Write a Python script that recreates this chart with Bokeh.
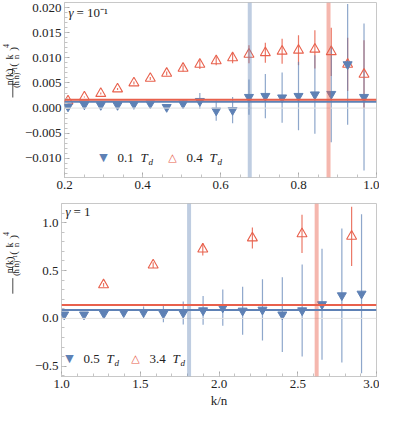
import math
from bokeh.plotting import figure
from bokeh.layouts import column, row
from bokeh.models import (Range1d, LinearAxis, Label, Span, FixedTicker,
                          CustomJSTickFormatter)
from bokeh.embed import file_html
from bokeh.resources import INLINE

# ---------------- data: top panel (gamma = 10^-1) ----------------
top_k = [0.209, 0.251, 0.293, 0.336, 0.378, 0.420, 0.462, 0.504, 0.547, 0.589,
         0.631, 0.673, 0.715, 0.758, 0.800, 0.842, 0.884, 0.926, 0.968]
top_blue = [0.0003, 0.0007, 0.0006, 0.0006, 0.0008, 0.0009, 0.0002, 0.0009, 0.0014, -0.0005,
            -0.0004, 0.0022, 0.0024, 0.0021, 0.0024, 0.0027, 0.0028, 0.0087, 0.0022]
top_blue_err = [0.0002, 0.0002, 0.0003, 0.0003, 0.0003, 0.0004, 0.0005, 0.0008, 0.0016, 0.0020,
                0.0026, 0.0035, 0.0044, 0.0050, 0.0068, 0.0078, 0.0096, 0.0120, 0.0146]
top_red = [0.0014, 0.0022, 0.0029, 0.0038, 0.0050, 0.0059, 0.0069, 0.0079, 0.0087, 0.0094,
           0.0100, 0.0107, 0.0110, 0.0113, 0.0115, 0.0117, 0.0112, 0.0087, 0.0067]
top_red_err = [0.0001, 0.0001, 0.0002, 0.0002, 0.0003, 0.0003, 0.0004, 0.0006, 0.0009, 0.0009,
               0.0011, 0.0018, 0.0020, 0.0025, 0.0030, 0.0038, 0.0048, 0.0053, 0.0068]
top_hlines = {"blue": 0.00128, "red": 0.00167}
top_vbands = {"blue": 0.675, "red": 0.877}
top_legend = ["0.1", "0.4"]

# ---------------- data: bottom panel (gamma = 1) ----------------
bot_k_blue = [1.017, 1.143, 1.269, 1.395, 1.521, 1.647, 1.773, 1.899, 2.024, 2.150,
              2.276, 2.402, 2.528, 2.654, 2.780, 2.905]
bot_blue = [0.040, 0.040, 0.050, 0.063, 0.063, 0.050, 0.057, 0.083, 0.113, 0.080,
            0.090, 0.040, 0.083, 0.147, 0.240, 0.257]
bot_blue_err = [0.010, 0.015, 0.020, 0.030, 0.060, 0.090, 0.120, 0.150, 0.190, 0.250,
                0.320, 0.390, 0.480, 0.580, 0.700, 0.830]
bot_k_red = [1.267, 1.582, 1.897, 2.212, 2.527, 2.842]
bot_red = [0.350, 0.557, 0.723, 0.840, 0.883, 0.857]
bot_red_err = [0.020, 0.030, 0.065, 0.110, 0.200, 0.310]
bot_hlines = {"blue": 0.087, "red": 0.140}
bot_vbands = {"blue": 1.81, "red": 2.62}
bot_legend = ["0.5", "3.4"]

# tick values
top_xticks = [0.2, 0.4, 0.6, 0.8, 1.0]
top_yticks = [-0.010, -0.005, 0.0, 0.005, 0.010, 0.015, 0.020]
bot_xticks = [1.0, 1.5, 2.0, 2.5, 3.0]
bot_yticks = [-0.5, 0.0, 0.5, 1.0]

BLUE = "#5E81B5"
RED = "#E8604C"
SERIF = "Liberation Serif, Times New Roman, serif"
FRAME_H = 175
LAB_W = 21
MAIN_W = 379 - LAB_W


def fmt(digits):
    return CustomJSTickFormatter(code=(
        "const s = Math.abs(tick).toFixed(%d); "
        "return (tick < -1e-12 ? '\\u2212' : '') + s;" % digits))


def minor_list(lo, hi, step):
    n = int(round((hi - lo) / step))
    return [round(lo + i * step, 6) for i in range(n + 1)]


def style_axis(ax, ticks, minor, formatter):
    ax.ticker = FixedTicker(ticks=ticks, minor_ticks=minor)
    ax.axis_line_color = None
    ax.major_tick_in = 5
    ax.major_tick_out = 0
    ax.minor_tick_in = 3
    ax.minor_tick_out = 0
    ax.major_tick_line_color = "#a8a8a8"
    ax.minor_tick_line_color = "#c4c4c4"
    ax.formatter = formatter
    ax.major_label_text_font = SERIF
    ax.major_label_text_font_size = "13px"
    ax.major_label_text_color = "#222222"
    ax.major_label_standoff = 3


def make_fig(height, xr, yr, btop, bbottom, xticks, xminor, yticks, yminor, xd, yd):
    p = figure(width=MAIN_W, height=height, x_range=Range1d(*xr), y_range=Range1d(*yr),
               output_backend="svg", toolbar_location=None,
               x_axis_location=None, y_axis_location=None,
               min_border_left=69 - 8 - LAB_W, min_border_right=3,
               min_border_top=btop, min_border_bottom=bbottom)
    p.grid.visible = False
    p.outline_line_color = "#c8c8c8"
    p.outline_line_width = 1
    p.background_fill_color = "white"
    p.border_fill_color = "white"
    for loc, ticks, minor, d in [("below", xticks, xminor, xd),
                                 ("left", yticks, yminor, yd)]:
        ax = LinearAxis()
        style_axis(ax, ticks, minor, fmt(d))
        p.add_layout(ax, loc)
    p.add_layout(Span(location=0, dimension="width", line_color="#e2e2e2", line_width=1))
    return p


def draw_data(p, kb, vb, eb, kr, vr, er, hl, vbands, msize):
    p.add_layout(Span(location=vbands["blue"], dimension="height",
                      line_color=BLUE, line_alpha=0.4, line_width=4))
    p.add_layout(Span(location=vbands["red"], dimension="height",
                      line_color=RED, line_alpha=0.45, line_width=4))
    p.segment(x0=kr, x1=kr, y0=[v - e for v, e in zip(vr, er)],
              y1=[v + e for v, e in zip(vr, er)], line_color=RED, line_alpha=0.85, line_width=1.2)
    p.segment(x0=kb, x1=kb, y0=[v - e for v, e in zip(vb, eb)],
              y1=[v + e for v, e in zip(vb, eb)], line_color=BLUE, line_alpha=0.7, line_width=1.2)
    p.add_layout(Span(location=hl["blue"], dimension="width", line_color=BLUE, line_width=2))
    p.add_layout(Span(location=hl["red"], dimension="width", line_color=RED, line_width=2))
    p.scatter(kr, vr, marker="triangle", size=msize + 1, fill_alpha=0,
              line_color=RED, line_width=1.1)
    p.scatter(kb, vb, marker="inverted_triangle", size=msize, fill_color=BLUE,
              line_color=BLUE, line_width=1)


def lab(p, text, x, y, size, angle=0.0, italic=False, font=SERIF, color="#222222",
        align="center", baseline="middle"):
    p.add_layout(Label(x=x, y=y, x_units="screen", y_units="screen", text=text,
                       text_font=font, text_font_size="%dpx" % size,
                       text_font_style="italic" if italic else "normal",
                       text_color=color, angle=angle, text_align=align,
                       text_baseline=baseline))


def ylabel_fig(height, bbottom):
    # narrow figure holding the stacked-fraction axis title
    q = figure(width=LAB_W, height=height, x_range=Range1d(0, LAB_W),
               y_range=Range1d(0, height), output_backend="svg", toolbar_location=None,
               x_axis_location=None, y_axis_location=None,
               min_border=0, min_border_left=0, min_border_right=0,
               min_border_top=0, min_border_bottom=0)
    q.grid.visible = False
    q.outline_line_color = None
    q.background_fill_color = "white"
    q.border_fill_color = "white"
    a = math.pi / 2
    c = bbottom + FRAME_H / 2
    lab(q, "n(k)", 8.5, c - 8, 10, angle=a)
    q.segment(x0=[12.3], x1=[12.3], y0=[c - 18], y1=[c + 1], line_color="#333333", line_width=0.9)
    lab(q, "(\u0127 n)\u207b\u00b9", 16, c - 8.5, 8, angle=a)
    lab(q, "(", 12, c + 4, 11, angle=a)
    lab(q, ")", 12, c + 20, 11, angle=a)
    lab(q, "k", 8.5, c + 12, 10, angle=a)
    q.segment(x0=[12], x1=[12], y0=[c + 9], y1=[c + 15], line_color="#333333", line_width=0.8)
    lab(q, "n", 15.5, c + 12, 9, angle=a)
    lab(q, "4", 5, c + 23, 8, angle=a)
    return q


def gamma_label(p, rest):
    lab(p, "\u03b3", 4, FRAME_H - 10, 13, italic=True, align="left")
    lab(p, rest, 12, FRAME_H - 10, 13, align="left")


def legend(p, y, items):
    for (mx, mark, col, num) in items:
        lab(p, mark, mx, y, 11, font="DejaVu Sans", color=col)
        lab(p, num, mx + 14, y, 13, align="left")
        lab(p, "T", mx + 37, y, 13, italic=True, align="left")
        lab(p, "d", mx + 45, y - 4, 9, italic=True, align="left")


# ---------------- top panel ----------------
TOP_B, TOP_BB = 2, 21
h1 = TOP_B + FRAME_H + TOP_BB
p1 = make_fig(h1, (0.2, 1.0), (-0.0138, 0.021), TOP_B, TOP_BB,
              top_xticks, minor_list(0.2, 1.0, 0.05), top_yticks,
              minor_list(-0.013, 0.021, 0.001), 1, 3)
draw_data(p1, top_k, top_blue, top_blue_err, top_k, top_red, top_red_err,
          top_hlines, top_vbands, 9)
gamma_label(p1, "= 10\u207b\u00b9")
legend(p1, 20, [(39, "\u25bc", BLUE, top_legend[0]),
                (108, "\u25b3", RED, top_legend[1])])
q1 = ylabel_fig(h1, TOP_BB)

# ---------------- bottom panel ----------------
BOT_B, BOT_BB = 5, 32
h2 = BOT_B + FRAME_H + BOT_BB
p2 = make_fig(h2, (1.0, 3.0), (-0.607, 1.2), BOT_B, BOT_BB,
              bot_xticks, minor_list(1.0, 3.0, 0.1), bot_yticks,
              minor_list(-0.6, 1.2, 0.1), 1, 1)
p2.below[0].axis_label = "k/n"
p2.below[0].axis_label_text_font = SERIF
p2.below[0].axis_label_text_font_size = "13px"
p2.below[0].axis_label_text_font_style = "normal"
p2.below[0].axis_label_text_color = "#222222"
p2.below[0].axis_label_standoff = 2
draw_data(p2, bot_k_blue, bot_blue, bot_blue_err, bot_k_red, bot_red, bot_red_err,
          bot_hlines, bot_vbands, 9)
gamma_label(p2, "= 1")
legend(p2, 18, [(8, "\u25bc", BLUE, bot_legend[0]),
                (74, "\u25b3", RED, bot_legend[1])])
q2 = ylabel_fig(h2, BOT_BB)

layout = column(row(q1, p1, spacing=0), row(q2, p2, spacing=0), spacing=0)
open("out.html", "w").write(file_html(layout, INLINE))
